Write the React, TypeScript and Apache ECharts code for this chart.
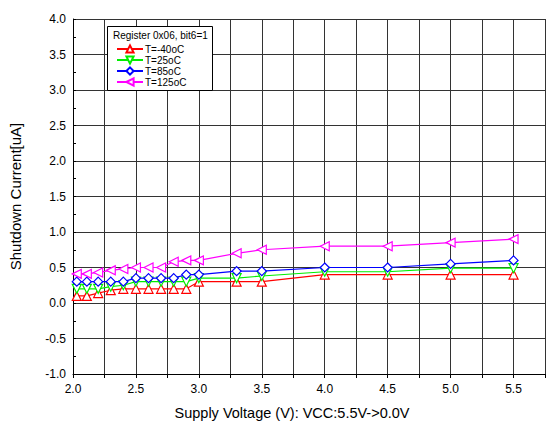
import React, { useEffect, useRef } from "react";
import * as echarts from "echarts";

const voltages = [2.03, 2.11, 2.2, 2.3, 2.4, 2.5, 2.6, 2.7, 2.8, 2.9, 3.0, 3.3, 3.5, 4.0, 4.5, 5.0, 5.5];
const tMinus40 = [0.1, 0.1, 0.14, 0.18, 0.2, 0.2, 0.2, 0.2, 0.2, 0.2, 0.3, 0.3, 0.3, 0.4, 0.4, 0.4, 0.4];
const t25 = [0.2, 0.2, 0.2, 0.23, 0.25, 0.3, 0.3, 0.3, 0.3, 0.3, 0.35, 0.35, 0.38, 0.44, 0.44, 0.49, 0.49];
const t85 = [0.3, 0.3, 0.3, 0.3, 0.3, 0.35, 0.35, 0.35, 0.35, 0.4, 0.4, 0.45, 0.45, 0.5, 0.5, 0.55, 0.6];
const t125 = [0.41, 0.41, 0.43, 0.46, 0.48, 0.5, 0.5, 0.5, 0.58, 0.6, 0.6, 0.7, 0.75, 0.8, 0.8, 0.85, 0.9];

const seriesNames = ["T=-40oC", "T=25oC", "T=85oC", "T=125oC"];
const seriesColors = ["#ff0000", "#00ee00", "#0000ff", "#ff00ff"];
const legendTitle = "Register 0x06, bit6=1";
const xTitle = "Supply Voltage (V): VCC:5.5V->0.0V";
const yTitle = "Shutdown Current[uA]";

const FONT = "'Liberation Sans', Arial, sans-serif";

export default function App() {
  const ref = useRef<HTMLDivElement>(null);
  useEffect(() => {
    document.body.style.margin = "0";
    const chart = echarts.init(ref.current!, null, { renderer: "svg" });
    const datasets = [tMinus40, t25, t85, t125];
    const symbols = ["triangle", "triangle", "diamond", "triangle"];
    const rotations = [0, 180, 0, 90];
    chart.setOption({
      animation: false,
      backgroundColor: "#ffffff",
      textStyle: { fontFamily: FONT },
      grid: { left: 71, top: 19, right: -1, bottom: 54 },
      xAxis: {
        type: "value",
        min: 2.0,
        max: 5.75,
        interval: 0.25,
        axisLine: { show: true, onZero: false, lineStyle: { color: "#000", width: 1 } },
        axisTick: { show: true, length: 4, lineStyle: { color: "#000" } },
        axisLabel: {
          color: "#000",
          fontSize: 12,
          fontFamily: FONT,
          margin: 9,
          formatter: (v: number) => (Math.abs(v * 2 - Math.round(v * 2)) < 1e-6 && v <= 5.5 ? v.toFixed(1) : ""),
        },
        splitLine: { show: true, lineStyle: { color: "#333", width: 1 } },
      },
      yAxis: {
        type: "value",
        min: -1.0,
        max: 4.0,
        interval: 0.5,
        axisLine: { show: true, onZero: false, lineStyle: { color: "#000", width: 1 } },
        axisTick: { show: true, inside: true, length: 3, lineStyle: { color: "#000" } },
        minorTick: { show: true, splitNumber: 2, length: 3, lineStyle: { color: "#000" } },
        axisLabel: {
          color: "#000",
          fontSize: 12,
          fontFamily: FONT,
          margin: 7,
          formatter: (v: number) => v.toFixed(1),
        },
        splitLine: { show: true, lineStyle: { color: "#333", width: 1 } },
        name: yTitle,
        nameLocation: "middle",
        nameGap: 50,
        nameTextStyle: { color: "#000", fontSize: 15, fontFamily: FONT },
      },
      legend: {
        show: true,
        orient: "vertical",
        left: 111,
        top: 39,
        itemWidth: 26,
        itemHeight: 9,
        itemGap: 1,
        z: 10,
        textStyle: { color: "#000", fontSize: 10, fontFamily: FONT, padding: [0, 0, 0, -3] },
        data: seriesNames,
      },
      graphic: [
        {
          type: "rect",
          z: 5,
          shape: { x: 107.5, y: 26.5, width: 105, height: 64 },
          style: { fill: "#fff", stroke: "#000", lineWidth: 1 },
        },
        {
          type: "text",
          z: 6,
          x: 113,
          y: 30,
          style: { text: legendTitle, fill: "#000", font: `10px ${FONT}` },
        },
        {
          type: "text",
          x: 292,
          y: 413,
          style: { text: xTitle, fill: "#000", font: `14.5px ${FONT}`, textAlign: "center", textVerticalAlign: "middle" },
        },
      ],
      series: seriesNames.map((name, i) => ({
        name,
        type: "line",
        data: voltages.map((x, j) => [x, datasets[i][j]]),
        symbol: symbols[i],
        symbolRotate: rotations[i],
        symbolSize: 9,
        showAllSymbol: true,
        clip: false,
        z: 3 + i,
        lineStyle: { color: seriesColors[i], width: 1.2 },
        itemStyle: { color: "#fff", borderColor: seriesColors[i], borderWidth: 1.2 },
      })),
    });
    return () => chart.dispose();
  }, []);
  return <div ref={ref} style={{ width: 548, height: 428 }} />;
}
